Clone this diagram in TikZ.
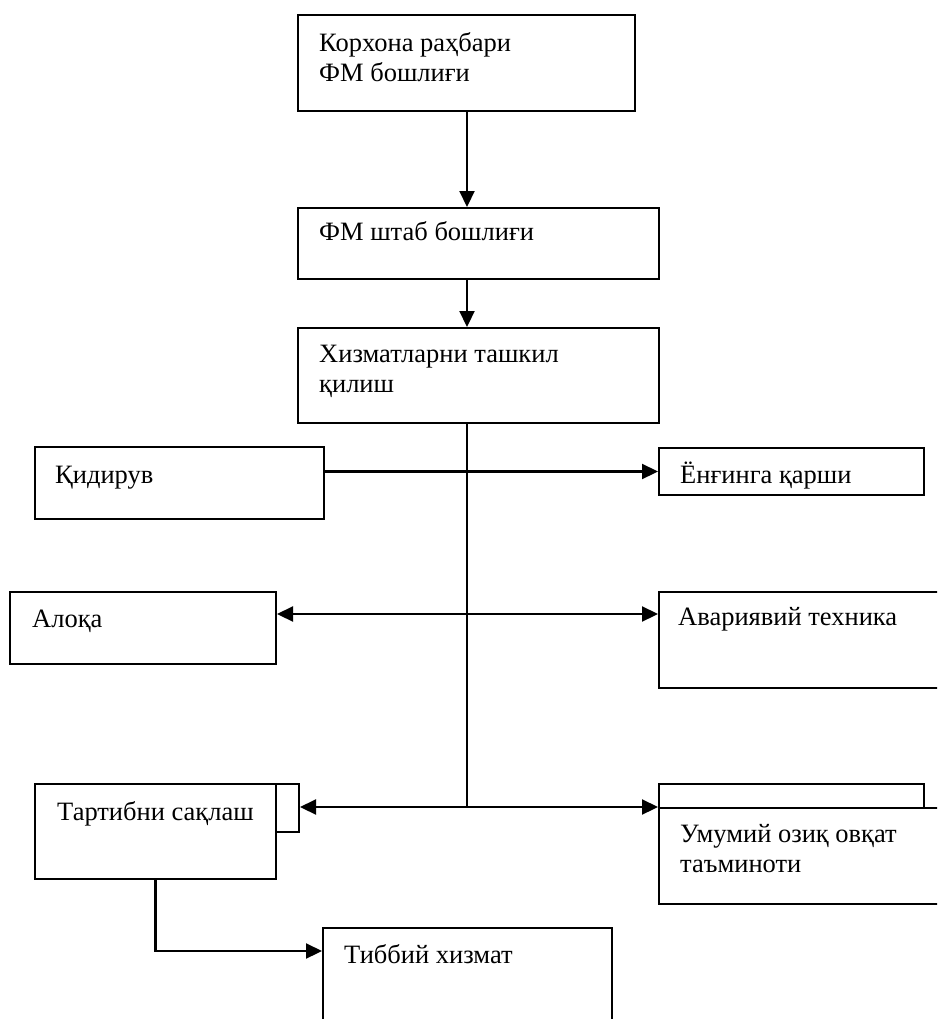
\documentclass[tikz,border=0pt]{standalone}
\usepackage{fontspec}
\setmainfont{Liberation Serif}
\usetikzlibrary{arrows.meta}
\tikzset{
	blok/.style={draw,rectangle,inner sep=0pt,anchor=north west,line width=2pt},
	yozuv/.style={anchor=base west,inner sep=0pt,align=left,font=\fontsize{26.5}{30}\selectfont},
	ok/.style={line width=2.2pt,-{Triangle[length=16pt,width=15pt]}},
}
\begin{document}
\begin{tikzpicture}[x=1pt,y=-1pt]
		\useasboundingbox (0,0) rectangle (937,1019);
		\clip (0,0) rectangle (937,1019);
		% bloklar
		\node[blok,minimum width=337pt,minimum height=96pt] (rahbar) at (297,14) {};
		\node[blok,minimum width=361pt,minimum height=71pt] (shtab) at (297,207) {};
		\node[blok,minimum width=361pt,minimum height=95pt] (xizmat) at (297,327) {};
		\node[blok,minimum width=289pt,minimum height=72pt] (qidiruv) at (34,446) {};
		\node[blok,minimum width=265pt,minimum height=47pt] (yongin) at (658,447) {};
		\node[blok,minimum width=266pt,minimum height=72pt] (aloqa) at (9,591) {};
		\node[blok,minimum width=300pt,minimum height=96pt] (avar) at (658,591) {};
		\node[blok,minimum width=241pt,minimum height=95pt] (tartib) at (34,783) {};
		\node[blok,minimum width=23pt,minimum height=48pt] (tartibk) at (275,783) {};
		\node[blok,minimum width=265pt,minimum height=24pt] (umumk) at (658,783) {};
		\node[blok,minimum width=300pt,minimum height=96pt] (umum) at (658,807) {};
		\node[blok,minimum width=289pt,minimum height=110pt] (tibbiy) at (322,927) {};
		% yozuvlar (ikki qatorli: oxirgi qator bazasi)
		\node[yozuv] (rahbar-t) at ([shift={(22,68)}]rahbar.north west) {Корхона раҳбари\\ФМ бошлиғи};
		\node[yozuv] (shtab-t) at ([shift={(22,33)}]shtab.north west) {ФМ штаб бошлиғи};
		\node[yozuv] (xizmat-t) at ([shift={(22,65)}]xizmat.north west) {Хизматларни ташкил\\қилиш};
		\node[yozuv] (qidiruv-t) at ([shift={(21,37)}]qidiruv.north west) {Қидирув};
		\node[yozuv] (yongin-t) at ([shift={(22,36)}]yongin.north west) {Ёнғинга қарши};
		\node[yozuv] (aloqa-t) at ([shift={(23,36)}]aloqa.north west) {Алоқа};
		\node[yozuv] (avar-t) at ([shift={(20,34)}]avar.north west) {Авариявий техника};
		\node[yozuv] (tartib-t) at ([shift={(23,37)}]tartib.north west) {Тартибни сақлаш};
		\node[yozuv] (umum-t) at ([shift={(22,65)}]umum.north west) {Умумий озиқ овқат\\таъминоти};
		\node[yozuv] (tibbiy-t) at ([shift={(22,36)}]tibbiy.north west) {Тиббий хизмат};
		% ulanishlar
		\coordinate (ustun) at (467,807);
		\coordinate (tarmoq) at (467,614);
		\coordinate (tibkir) at (322,951);
		\draw[ok] (rahbar.south -| ustun) -- (shtab.north -| ustun);
		\draw[ok] (shtab.south -| ustun) -- (xizmat.north -| ustun);
		\draw[line width=2.2pt] (xizmat.south -| ustun) -- (ustun);
		\draw[ok] (qidiruv.east |- yongin.west) -- (yongin.west);
		\draw[ok] (tarmoq) -- (aloqa.east |- tarmoq);
		\draw[ok] (tarmoq) -- (avar.west |- tarmoq);
		\draw[ok] (ustun) -- (tartibk.east |- ustun);
		\draw[ok] (ustun) -- (umum.north west);
		\draw[ok] (tartib.south) |- (tibkir);
	\end{tikzpicture}
\end{document}
